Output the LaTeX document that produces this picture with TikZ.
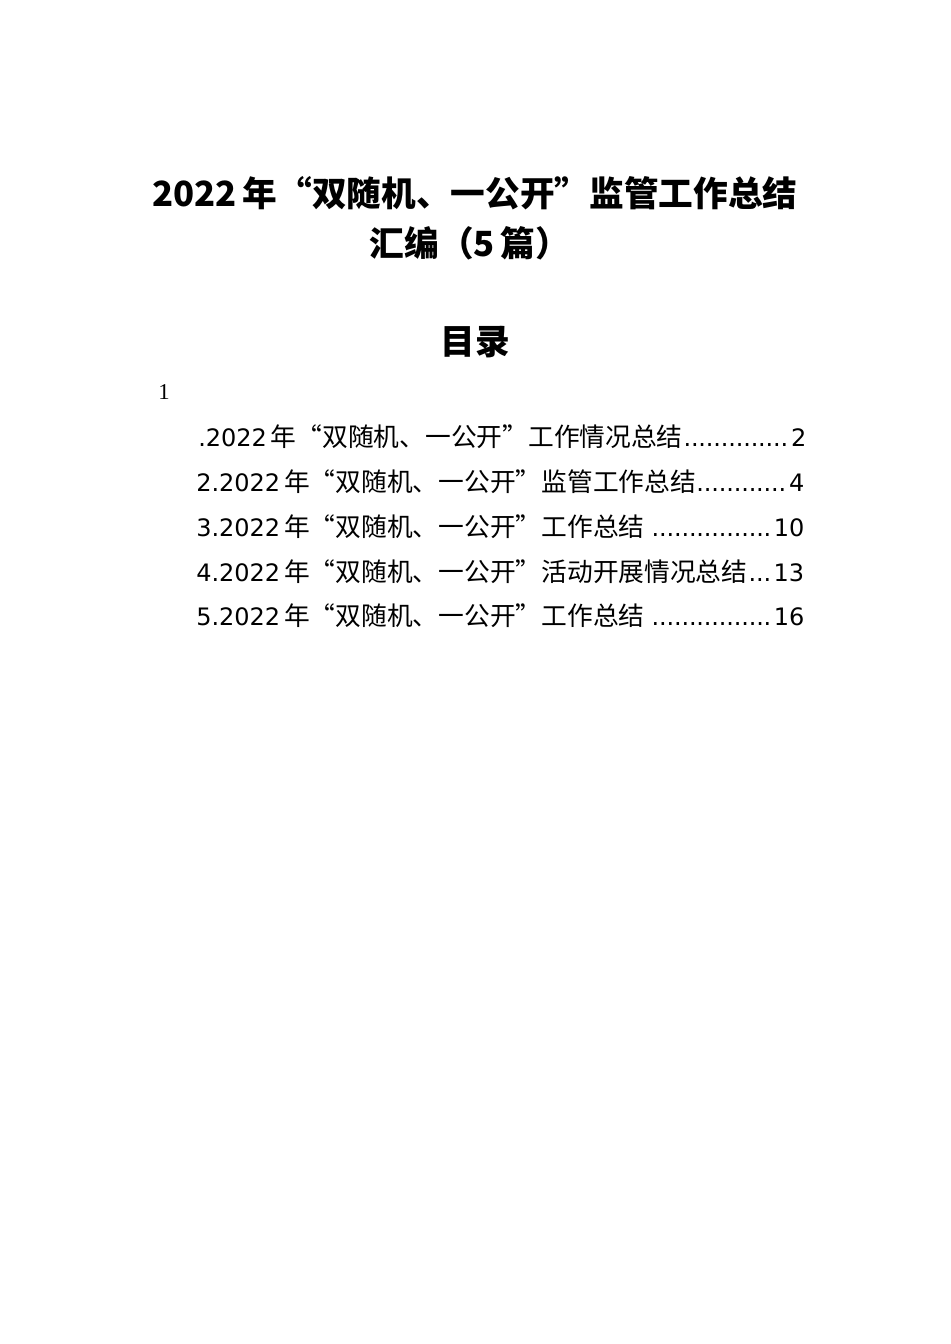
\documentclass[tikz,border=0pt]{standalone}
\usepackage{fontspec}
\setmainfont{DejaVu Sans}
\newfontfamily\cjk{Noto Sans CJK SC}
\newfontfamily\dv{DejaVu Sans}
\newfontfamily\ser{Liberation Serif}
\tikzset{title/.style={font=\fontsize{26}{30}\selectfont\cjk\bfseries,inner sep=0pt},
entry/.style={anchor=west,inner sep=0pt,font=\fontsize{19.3}{22}\selectfont\cjk}}
\newcommand{\lat}[1]{{\fontsize{18}{22}\selectfont\dv #1}\hspace{3pt}}
\newcommand{\tocline}[2]{\makebox[456pt][l]{#1\leaders\hbox to 5.6pt{\hss\fontsize{18}{22}\selectfont\dv.\hss}\hfill{\fontsize{18}{22}\selectfont\dv#2}}}
\begin{document}
\begin{tikzpicture}[x=0.75pt,y=-0.75pt]
\useasboundingbox (0,0) rectangle (950,1344);
\node[title] (t1) at (475,193) {2022\,年“双随机、一公开”监管工作总结};
\node[title] (t2) at (470,243) {汇编（5\,篇）};
\node[title] (toc) at (475,342) {目录};
\node[anchor=west,inner sep=0pt,font=\fontsize{17}{20}\selectfont\ser] (one) at (158,392) {1};
\node[entry] (e1) at (198,437) {\tocline{\lat{.2022}年“双随机、一公开”工作情况总结}{2}};
\node[entry] (e2) at (196,482) {\tocline{\lat{2.2022}年“双随机、一公开”监管工作总结}{4}};
\node[entry] (e3) at (196,527) {\tocline{\lat{3.2022}年“双随机、一公开”工作总结}{10}};
\node[entry] (e4) at (196,572) {\tocline{\lat{4.2022}年“双随机、一公开”活动开展情况总结}{13}};
\node[entry] (e5) at (196,616) {\tocline{\lat{5.2022}年“双随机、一公开”工作总结}{16}};
\end{tikzpicture}
\end{document}
